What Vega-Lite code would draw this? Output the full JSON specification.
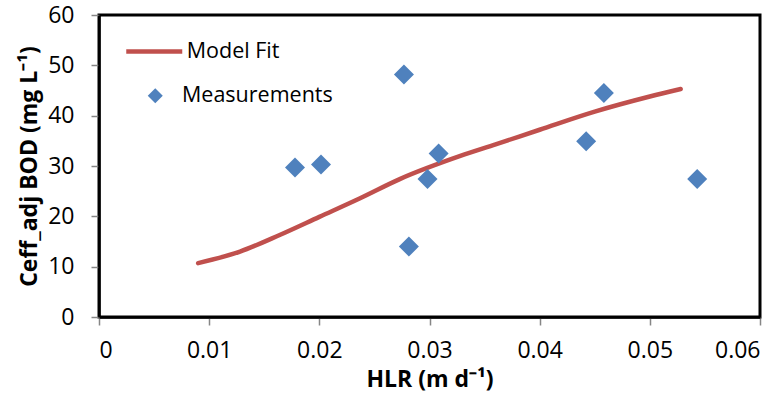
{
  "$schema": "https://vega.github.io/schema/vega-lite/v6.json",
  "width": 661,
  "height": 302,
  "autosize": {"type": "none"},
  "padding": {"left": 99, "top": 15, "right": 24, "bottom": 83},
  "background": "white",
  "config": {
    "font": "Open Sans",
    "view": {"stroke": "black", "strokeWidth": 3},
    "axis": {
      "grid": false,
      "domainColor": "black",
      "domainWidth": 2.5,
      "tickColor": "#868686",
      "tickWidth": 1.5,
      "tickSize": 8,
      "labelColor": "black",
      "labelFontSize": 23,
      "labelFont": "Open Sans",
      "titleColor": "black",
      "titleFontSize": 23,
      "titleFont": "Open Sans",
      "titleFontWeight": "bold"
    },
    "legend": {
      "labelFontSize": 21.5,
      "labelFont": "Open Sans",
      "labelColor": "black",
      "labelLimit": 400,
      "title": null
    }
  },
  "datasets": {
    "fit": [
      {"hlr": 0.0090, "bod": 10.7, "series": "Model Fit"},
      {"hlr": 0.0128, "bod": 13.0, "series": "Model Fit"},
      {"hlr": 0.0164, "bod": 16.3, "series": "Model Fit"},
      {"hlr": 0.0200, "bod": 19.9, "series": "Model Fit"},
      {"hlr": 0.0237, "bod": 23.6, "series": "Model Fit"},
      {"hlr": 0.0273, "bod": 27.4, "series": "Model Fit"},
      {"hlr": 0.0328, "bod": 32.0, "series": "Model Fit"},
      {"hlr": 0.0360, "bod": 34.3, "series": "Model Fit"},
      {"hlr": 0.0400, "bod": 37.2, "series": "Model Fit"},
      {"hlr": 0.0450, "bod": 40.8, "series": "Model Fit"},
      {"hlr": 0.0500, "bod": 43.8, "series": "Model Fit"},
      {"hlr": 0.0528, "bod": 45.3, "series": "Model Fit"}
    ],
    "meas": [
      {"hlr": 0.01779, "bod": 29.7, "series": "Measurements"},
      {"hlr": 0.02015, "bod": 30.3, "series": "Measurements"},
      {"hlr": 0.02768, "bod": 48.2, "series": "Measurements"},
      {"hlr": 0.02813, "bod": 14.0, "series": "Measurements"},
      {"hlr": 0.02982, "bod": 27.4, "series": "Measurements"},
      {"hlr": 0.03083, "bod": 32.5, "series": "Measurements"},
      {"hlr": 0.04422, "bod": 34.9, "series": "Measurements"},
      {"hlr": 0.04583, "bod": 44.5, "series": "Measurements"},
      {"hlr": 0.05430, "bod": 27.4, "series": "Measurements"}
    ]
  },
  "encoding": {
    "x": {
      "field": "hlr", "type": "quantitative",
      "scale": {"domain": [0, 0.06], "nice": false},
      "axis": {
        "values": [0, 0.01, 0.02, 0.03, 0.04, 0.05, 0.06],
        "labelExpr": "datum.value == 0 ? '0' : format(datum.value, '.2f')",
        "labelPadding": 14,
        "title": "HLR (m d⁻¹)",
        "titlePadding": 6
      }
    },
    "y": {
      "field": "bod", "type": "quantitative",
      "scale": {"domain": [0, 60], "nice": false},
      "axis": {
        "values": [0, 10, 20, 30, 40, 50, 60],
        "labelPadding": 17,
        "title": "Ceff_adj BOD (mg L⁻¹)",
        "titlePadding": 6
      }
    }
  },
  "layer": [
    {
      "data": {"name": "fit"},
      "mark": {"type": "line", "strokeWidth": 4.5, "interpolate": "monotone", "strokeCap": "round"},
      "encoding": {
        "color": {
          "field": "series", "type": "nominal",
          "scale": {"domain": ["Model Fit"], "range": ["#C0504D"]},
          "legend": {
            "orient": "none",
            "legendX": 24.75,
            "legendY": 6,
            "symbolType": "stroke",
            "symbolSize": 3136,
            "symbolStrokeWidth": 4.5,
            "labelOffset": 2
          }
        }
      }
    },
    {
      "data": {"name": "meas"},
      "mark": {"type": "point", "filled": true, "size": 400, "opacity": 1, "color": "#4F81BD"},
      "encoding": {
        "shape": {
          "field": "series", "type": "nominal",
          "scale": {"domain": ["Measurements"], "range": ["diamond"]},
          "legend": {
            "orient": "none",
            "legendX": 45.5,
            "legendY": 70,
            "symbolSize": 225,
            "symbolFillColor": "#4F81BD",
            "symbolStrokeWidth": 0,
            "symbolOpacity": 1,
            "labelOffset": 16
          }
        }
      }
    }
  ],
  "resolve": {"scale": {"color": "independent", "shape": "independent"}}
}
